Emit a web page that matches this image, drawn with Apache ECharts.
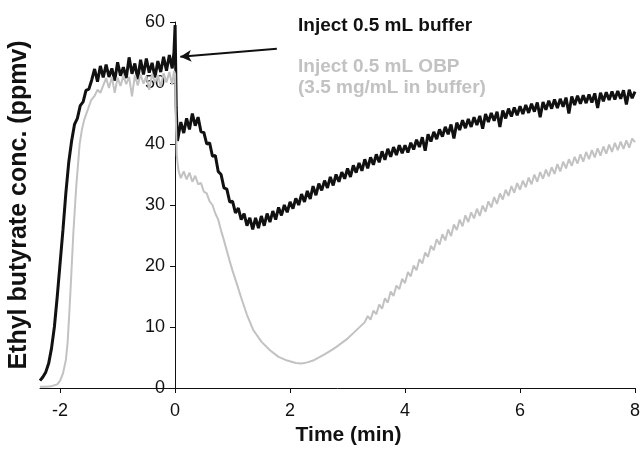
<!DOCTYPE html>
<html>
<head>
<meta charset="utf-8">
<script src="https://cdn.jsdelivr.net/npm/echarts@6/dist/echarts.min.js"></script>
<style>
  html, body { margin: 0; padding: 0; background: #fff; }
  #chart { width: 641px; height: 453px; }
</style>
</head>
<body>
<div id="chart"></div>
<script>
// values: [time (min), ethyl butyrate (ppmv)]
const bufferTrace = [
  [-2.35, 1.2], [-2.30, 1.8], [-2.25, 2.6], [-2.20, 4.0], [-2.15, 6.5], [-2.10, 10.0], [-2.05, 15.0],
  [-2.00, 20.5], [-1.95, 26.0], [-1.90, 32.0], [-1.85, 37.0], [-1.80, 40.5], [-1.75, 43.2], [-1.70, 44.2],
  [-1.65, 46.3], [-1.60, 46.9], [-1.55, 48.8], [-1.50, 49.0], [-1.45, 50.5],
  [-1.40, 52.3], [-1.35, 50.2], [-1.30, 52.8], [-1.25, 50.9], [-1.20, 53.0], [-1.15, 51.0], [-1.10, 52.4],
  [-1.05, 50.4], [-1.00, 53.4], [-0.95, 51.2], [-0.90, 52.6], [-0.85, 50.8], [-0.80, 54.2], [-0.75, 51.5],
  [-0.70, 53.2], [-0.65, 50.6], [-0.60, 53.8], [-0.55, 51.4], [-0.50, 54.0], [-0.45, 51.7], [-0.40, 53.3],
  [-0.35, 50.9], [-0.30, 53.6], [-0.25, 51.8], [-0.20, 54.3], [-0.15, 52.0], [-0.10, 54.6], [-0.05, 52.4],
  [-0.02, 55.0], [0.00, 59.5], [0.02, 46.0], [0.04, 40.5],
  [0.05, 41.0], [0.10, 43.6], [0.15, 41.8], [0.20, 44.2], [0.25, 42.4], [0.30, 45.0], [0.35, 43.0],
  [0.40, 44.4], [0.45, 42.0], [0.50, 41.9], [0.55, 40.0], [0.60, 40.2], [0.65, 38.0], [0.70, 38.1],
  [0.75, 35.5], [0.80, 35.0], [0.85, 32.8], [0.90, 32.6], [0.95, 30.5], [1.00, 30.6], [1.05, 28.7],
  [1.10, 29.5], [1.15, 27.6], [1.20, 28.6], [1.25, 26.6], [1.30, 27.9], [1.35, 26.0], [1.40, 27.9],
  [1.45, 26.2], [1.50, 28.2], [1.55, 26.6], [1.60, 28.6], [1.65, 27.2], [1.70, 29.0], [1.75, 27.6],
  [1.80, 29.6], [1.85, 28.3], [1.90, 30.0], [1.95, 28.8], [2.00, 30.5], [2.05, 29.4], [2.10, 31.1],
  [2.15, 30.0], [2.20, 31.8], [2.25, 30.5], [2.30, 32.3], [2.35, 31.0], [2.40, 33.1], [2.45, 31.6],
  [2.50, 33.5], [2.55, 32.4], [2.60, 34.0], [2.65, 32.8], [2.70, 34.6], [2.75, 33.2], [2.80, 35.0],
  [2.85, 33.8], [2.90, 35.4], [2.95, 34.3], [3.00, 36.0], [3.05, 34.6], [3.10, 36.5], [3.15, 35.3],
  [3.20, 36.9], [3.25, 35.6], [3.30, 37.5], [3.35, 36.0], [3.40, 37.8], [3.45, 36.6], [3.50, 38.3],
  [3.55, 37.0], [3.60, 38.8], [3.65, 37.4], [3.70, 39.2], [3.75, 37.9], [3.80, 39.5], [3.85, 38.2],
  [3.90, 39.8], [3.95, 38.5], [4.00, 39.8], [4.05, 38.6], [4.10, 40.2], [4.15, 39.1], [4.20, 40.7],
  [4.25, 39.5], [4.30, 41.1], [4.35, 38.9], [4.40, 41.6], [4.45, 40.4], [4.50, 42.0], [4.55, 40.8],
  [4.60, 42.4], [4.65, 41.2], [4.70, 42.8], [4.75, 41.6], [4.80, 43.2], [4.85, 40.9], [4.90, 43.5],
  [4.95, 42.3], [5.00, 43.9], [5.05, 42.6], [5.10, 44.1], [5.15, 42.8], [5.20, 44.4], [5.25, 43.1],
  [5.30, 44.6], [5.35, 42.5], [5.40, 44.9], [5.45, 43.6], [5.50, 45.1], [5.55, 43.8], [5.60, 45.3],
  [5.65, 42.8], [5.70, 45.5], [5.75, 44.2], [5.80, 45.8], [5.85, 44.5], [5.90, 46.0], [5.95, 44.7],
  [6.00, 46.2], [6.05, 44.9], [6.10, 46.4], [6.15, 45.1], [6.20, 46.6], [6.25, 45.3], [6.30, 46.8],
  [6.35, 44.4], [6.40, 46.9], [6.45, 45.6], [6.50, 47.1], [6.55, 45.8], [6.60, 47.3], [6.65, 45.9],
  [6.70, 47.4], [6.75, 46.1], [6.80, 47.6], [6.85, 45.0], [6.90, 47.8], [6.95, 46.4], [7.00, 47.9],
  [7.05, 46.6], [7.10, 48.0], [7.15, 46.7], [7.20, 48.1], [7.25, 46.8], [7.30, 48.3], [7.35, 45.9],
  [7.40, 48.4], [7.45, 47.0], [7.50, 48.5], [7.55, 47.2], [7.60, 48.6], [7.65, 47.3], [7.70, 48.7],
  [7.75, 47.4], [7.80, 48.8], [7.85, 46.5], [7.90, 48.9], [7.95, 47.5], [8.00, 48.6]
];

const obpTrace = [
  [-2.35, 0.2], [-2.25, 0.2], [-2.15, 0.3], [-2.05, 0.6], [-2.00, 1.2], [-1.95, 2.4], [-1.90, 4.6],
  [-1.87, 7.4], [-1.84, 12.3], [-1.81, 17.7], [-1.77, 25.4], [-1.72, 33.0], [-1.66, 40.0], [-1.62, 42.4],
  [-1.58, 44.0], [-1.52, 45.6], [-1.46, 47.2], [-1.40, 47.9], [-1.35, 48.9], [-1.30, 48.4],
  [-1.25, 49.6], [-1.20, 50.8], [-1.15, 49.2], [-1.10, 51.0], [-1.05, 48.4], [-1.00, 50.9], [-0.95, 49.5],
  [-0.90, 51.2], [-0.85, 49.8], [-0.80, 51.0], [-0.75, 47.8], [-0.70, 51.3], [-0.65, 49.6], [-0.60, 51.4],
  [-0.55, 49.9], [-0.50, 51.1], [-0.45, 48.9], [-0.40, 51.5], [-0.35, 50.0], [-0.30, 51.3], [-0.25, 49.4],
  [-0.20, 51.6], [-0.15, 50.1], [-0.10, 51.8], [-0.05, 49.7], [-0.02, 52.0], [0.00, 51.5], [0.01, 45.0],
  [0.03, 38.0], [0.06, 35.6], [0.10, 34.4], [0.15, 35.5], [0.20, 34.2], [0.25, 35.3], [0.30, 33.8],
  [0.35, 34.8], [0.40, 33.4], [0.45, 33.6], [0.50, 32.2], [0.55, 31.9], [0.60, 30.6], [0.65, 30.0],
  [0.70, 28.6], [0.75, 27.6], [0.80, 25.8], [0.85, 24.2], [0.90, 22.5], [0.95, 20.8], [1.00, 19.2],
  [1.07, 17.2], [1.15, 14.8], [1.25, 12.0], [1.36, 9.5], [1.50, 7.6], [1.65, 6.2], [1.80, 5.1],
  [1.95, 4.5], [2.10, 4.1], [2.20, 4.0], [2.30, 4.2], [2.40, 4.5], [2.52, 5.1], [2.60, 5.5], [2.70, 6.1],
  [2.80, 6.7], [2.90, 7.4], [3.00, 8.1], [3.10, 9.0], [3.20, 9.9], [3.30, 10.8],
  [3.35, 11.8], [3.40, 11.2], [3.45, 12.7], [3.50, 12.1], [3.55, 13.7], [3.60, 13.0], [3.65, 14.7],
  [3.70, 14.0], [3.75, 15.8], [3.80, 15.1], [3.85, 16.8], [3.90, 16.2], [3.95, 17.9], [4.00, 17.2],
  [4.05, 19.0], [4.10, 18.3], [4.15, 20.1], [4.20, 19.3], [4.25, 21.1], [4.30, 20.4], [4.35, 22.2],
  [4.40, 21.5], [4.45, 23.3], [4.50, 22.6], [4.55, 24.4], [4.60, 23.5], [4.65, 25.2], [4.70, 24.2],
  [4.75, 26.0], [4.80, 24.9], [4.85, 26.8], [4.90, 25.9], [4.95, 27.6], [5.00, 26.5], [5.05, 28.3],
  [5.10, 27.2], [5.15, 28.8], [5.20, 27.8], [5.25, 29.4], [5.30, 28.2], [5.35, 29.9], [5.40, 28.9],
  [5.45, 30.6], [5.50, 29.6], [5.55, 31.3], [5.60, 30.2], [5.65, 31.9], [5.70, 30.9], [5.75, 32.5],
  [5.80, 31.5], [5.85, 33.1], [5.90, 32.0], [5.95, 33.6], [6.00, 32.5], [6.05, 34.0], [6.10, 32.9],
  [6.15, 34.5], [6.20, 33.4], [6.25, 35.0], [6.30, 33.8], [6.35, 35.4], [6.40, 34.3], [6.45, 35.8],
  [6.50, 34.7], [6.55, 36.2], [6.60, 35.1], [6.65, 36.7], [6.70, 35.5], [6.75, 37.1], [6.80, 36.0],
  [6.85, 37.5], [6.90, 36.4], [6.95, 37.9], [7.00, 36.8], [7.05, 38.3], [7.10, 37.1], [7.15, 38.7],
  [7.20, 37.5], [7.25, 39.0], [7.30, 37.8], [7.35, 39.3], [7.40, 38.1], [7.45, 39.6], [7.50, 38.4],
  [7.55, 39.9], [7.60, 38.7], [7.65, 40.2], [7.70, 39.0], [7.75, 40.4], [7.80, 39.2], [7.85, 40.6],
  [7.90, 39.4], [7.95, 40.9], [8.00, 40.3]
];

const timeTicks = [-2, 0, 2, 4, 6, 8];
const bufferLabel = 'Inject 0.5 mL buffer';
const obpLabel = 'Inject 0.5 mL OBP\n(3.5 mg/mL in buffer)';
// arrow from the label to the injection spike
const arrowFrom = [1.77, 55.6];
const arrowTo = [0.09, 54.3];

const font = '"Liberation Sans", Arial, Helvetica, sans-serif';
const ink = '#111';
const grey = '#c2c2c2';

const chart = echarts.init(document.getElementById('chart'));

chart.setOption({
  animation: false,
  textStyle: { fontFamily: font },
  grid: { left: 40, right: 6, top: 22, bottom: 65, containLabel: false, outerBoundsMode: 'none' },
  xAxis: {
    type: 'value',
    min: -2.35,
    max: 8,
    axisLine: { onZero: true, lineStyle: { color: ink, width: 1 } },
    axisTick: { show: true, length: 5, customValues: timeTicks, lineStyle: { color: ink } },
    axisLabel: { customValues: timeTicks, fontSize: 18, color: ink, margin: 14, fontFamily: font },
    splitLine: { show: false },
    name: 'Time (min)',
    nameLocation: 'middle',
    nameGap: 35,
    nameTextStyle: { fontSize: 21, fontWeight: 'bold', color: ink, fontFamily: font, padding: [0, 0, 0, 22] }
  },
  yAxis: {
    type: 'value',
    min: 0,
    max: 60,
    interval: 10,
    // the axis sits at time 0, pushed in from the grid's left edge
    offset: -135,
    axisLine: { show: true, onZero: false, lineStyle: { color: ink, width: 1 } },
    axisTick: { show: true, length: 5, lineStyle: { color: ink } },
    axisLabel: { fontSize: 18, color: ink, margin: 10, fontFamily: font },
    splitLine: { show: false },
    name: 'Ethyl butyrate conc. (ppmv)',
    nameLocation: 'middle',
    nameGap: 143,
    nameTextStyle: { fontSize: 25, fontWeight: 'bold', color: ink, fontFamily: font }
  },
  graphic: [
    {
      type: 'text', left: 298, top: 16,
      style: { text: bufferLabel, fill: ink, font: 'bold 19px ' + font }
    },
    {
      type: 'text', left: 298, top: 56,
      style: { text: obpLabel, fill: grey, font: 'bold 19px ' + font, lineHeight: 21 }
    }
  ],
  series: [
    {
      name: bufferLabel,
      type: 'line',
      data: bufferTrace,
      showSymbol: false,
      lineStyle: { color: ink, width: 3 },
      z: 2,
      markLine: {
        silent: true,
        symbol: ['none', 'arrow'],
        symbolSize: [9, 11],
        label: { show: false },
        lineStyle: { color: ink, width: 2, type: 'solid' },
        data: [[{ coord: arrowFrom }, { coord: arrowTo }]]
      }
    },
    {
      name: obpLabel,
      type: 'line',
      data: obpTrace,
      showSymbol: false,
      lineStyle: { color: grey, width: 2 },
      z: 3
    }
  ]
});
</script>
</body>
</html>
